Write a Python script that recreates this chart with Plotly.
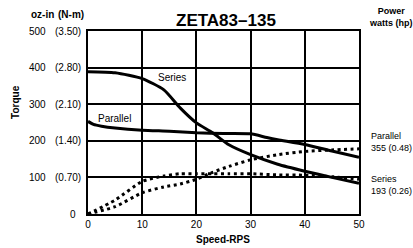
import plotly.graph_objects as go

# ---- data ----
speed_series = [0, 5, 10, 14, 17, 20, 23, 26, 30, 35, 40, 45, 50]
torque_series = [389, 386, 370, 339, 290, 249, 222, 189, 162, 136, 117, 100, 84]

speed_parallel = [0, 1, 2.5, 5, 10, 15, 20, 25, 30, 33, 35, 40, 45, 50]
torque_parallel = [253, 245, 240, 235, 229, 226, 222, 220, 219, 209, 203, 190, 172, 155]

speed_power = [0, 5, 10, 14, 17, 20, 23, 26, 30, 35, 40, 45, 50]
power_series = [0, 38, 89, 104, 110, 110, 110, 110, 110, 107, 106, 102, 95]
power_parallel = [0, 20, 58, 74, 82, 95, 114, 130, 148, 162, 171, 175, 178]

x_ticks = [0, 10, 20, 30, 40, 50]
y_ticks = [0, 100, 200, 300, 400, 500]
y_ozin_labels = ["0", "100", "200", "300", "400", "500"]
y_nm_labels = ["", "(0.70)", "(1.40)", "(2.10)", "(2.80)", "(3.50)"]

FONT = "Liberation Sans, Arial, Helvetica, sans-serif"

fig = go.Figure()
solid = dict(color="black", width=3, shape="spline", smoothing=0.6)
dotted = dict(color="black", width=3, dash="3px,3.5px", shape="spline", smoothing=0.6)

fig.add_trace(go.Scatter(x=speed_series, y=torque_series, mode="lines", line=solid))
fig.add_trace(go.Scatter(x=speed_parallel, y=torque_parallel, mode="lines", line=solid))
fig.add_trace(go.Scatter(x=speed_power, y=power_series, mode="lines", line=dotted))
fig.add_trace(go.Scatter(x=speed_power, y=power_parallel, mode="lines", line=dotted))

ann = []
# left tick labels (two columns)
for v, a, b in zip(y_ticks, y_ozin_labels, y_nm_labels):
    if b:
        ann.append(dict(x=-0.148, xref="paper", y=v, yref="y", text=a, xanchor="right",
                        yanchor="middle", showarrow=False, font=dict(size=10)))
        ann.append(dict(x=-0.018, xref="paper", y=v, yref="y", text=b, xanchor="right",
                        yanchor="middle", showarrow=False, font=dict(size=10)))
    else:
        ann.append(dict(x=-0.037, xref="paper", y=v, yref="y", text=a, xanchor="right",
                        yanchor="middle", showarrow=False, font=dict(size=10)))

ann += [
    dict(x=-0.218, y=1.0916, xref="paper", yref="paper", text="<b>oz-in</b>", xanchor="left",
         yanchor="middle", showarrow=False, font=dict(size=10)),
    dict(x=-0.118, y=1.0916, xref="paper", yref="paper", text="<b>(N-m)</b>", xanchor="left",
         yanchor="middle", showarrow=False, font=dict(size=10)),
    dict(x=-0.2675, y=0.61, xref="paper", yref="paper", text="<b>Torque</b>", textangle=-90,
         xanchor="center", yanchor="middle", showarrow=False, font=dict(size=10)),
    dict(x=0.498, y=-0.140, xref="paper", yref="paper", text="<b>Speed-RPS</b>",
         xanchor="center", yanchor="middle", showarrow=False, font=dict(size=10)),
    dict(x=0.509, y=1.059, xref="paper", yref="paper", text="<b>ZETA83–135</b>",
         xanchor="center", yanchor="middle", showarrow=False, font=dict(size=17)),
    dict(x=1.117, y=1.075, xref="paper", yref="paper", text="<b>Power<br>watts (hp)</b>",
         xanchor="center", yanchor="middle", align="center", showarrow=False,
         font=dict(size=9)),
    dict(x=1.037, y=0.394, xref="paper", yref="paper", text="Parallel<br>355 (0.48)",
         xanchor="left", yanchor="middle", align="left", showarrow=False, font=dict(size=9)),
    dict(x=1.037, y=0.157, xref="paper", yref="paper", text="Series<br>193 (0.26)",
         xanchor="left", yanchor="middle", align="left", showarrow=False, font=dict(size=9)),
    dict(x=12.5, y=374, xref="x", yref="y", text="Series", xanchor="left",
         yanchor="middle", showarrow=False, font=dict(size=10)),
    dict(x=1.5, y=262, xref="x", yref="y", text="Parallel", xanchor="left",
         yanchor="middle", showarrow=False, font=dict(size=10)),
]

fig.update_layout(
    width=413, height=248,
    margin=dict(l=88, r=54, t=31, b=34),
    paper_bgcolor="white", plot_bgcolor="white",
    showlegend=False,
    font=dict(family=FONT, color="black", size=10),
    annotations=ann,
    xaxis=dict(range=[0, 50], tickvals=x_ticks, showgrid=True, gridcolor="black", gridwidth=2,
               showline=True, linecolor="black", linewidth=2, mirror=True, zeroline=False,
               ticks="", tickfont=dict(size=10)),
    yaxis=dict(range=[0, 500], tickvals=y_ticks, showgrid=True, gridcolor="black", gridwidth=2,
               showline=True, linecolor="black", linewidth=2, mirror=True, zeroline=False,
               ticks="", showticklabels=False),
)

fig.write_html("out.html", config={"displayModeBar": False},
               post_script="document.body.style.margin='0';")
